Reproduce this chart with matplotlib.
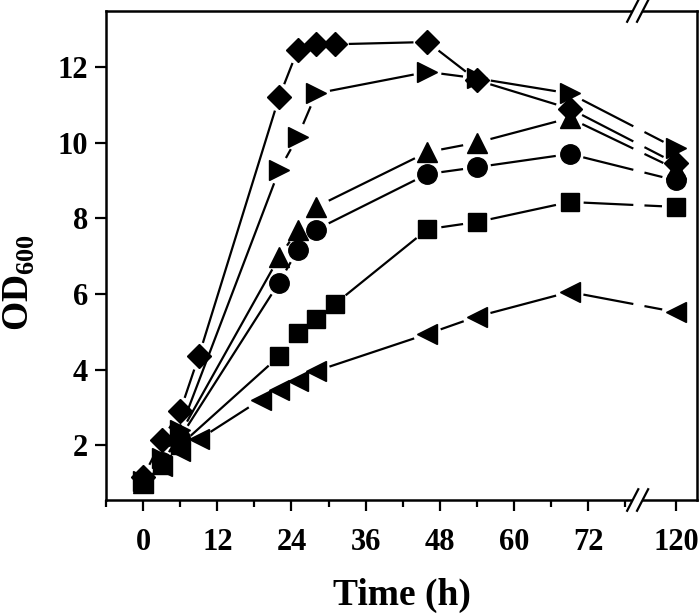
import numpy as np
import matplotlib
matplotlib.use("Agg")
import matplotlib.pyplot as plt

# ---------------- data ----------------
# time in hours; 120 h is drawn after an axis break
t_diamond = [0, 3, 6, 9, 22, 25, 28, 31, 46, 54, 69, 120]
od_diamond = [1.15, 2.13, 2.9, 4.35, 11.2, 12.45, 12.6, 12.6, 12.66, 11.65, 10.9, 9.45]

t_rtri = [0, 3, 6, 22, 25, 28, 46, 54, 69, 120]
od_rtri = [1.05, 1.65, 2.4, 9.27, 10.15, 11.3, 11.87, 11.7, 11.3, 9.85]

t_utri = [0, 3, 6, 22, 25, 28, 46, 54, 69, 120]
od_utri = [1.0, 1.5, 2.3, 6.97, 7.69, 8.3, 9.75, 10.0, 10.65, 9.3]

t_circle = [0, 3, 6, 22, 25, 28, 46, 54, 69, 120]
od_circle = [1.05, 1.55, 2.2, 6.3, 7.16, 7.7, 9.17, 9.35, 9.7, 9.0]

t_square = [0, 3, 6, 22, 25, 28, 31, 46, 54, 69, 120]
od_square = [1.0, 1.5, 2.0, 4.35, 4.96, 5.33, 5.73, 7.71, 7.9, 8.43, 8.3]

t_ltri = [0, 3, 6, 9, 19, 22, 25, 28, 46, 54, 69, 120]
od_ltri = [1.0, 1.45, 1.85, 2.15, 3.2, 3.45, 3.7, 3.96, 4.94, 5.4, 6.05, 5.52]

x_ticks = [0, 12, 24, 36, 48, 60, 72, 120]
y_ticks = [2, 4, 6, 8, 10, 12]

# ---------------- axis break mapping ----------------
BREAK_POS = 80.0      # where the // marks are drawn (axis units)
POS_120 = 86.2        # axis position of 120 h


def tx(t):
    t = np.asarray(t, dtype=float)
    return np.where(t <= 72, t, POS_120 + (t - 120) * 0.3)


plt.rcParams['font.family'] = ['Liberation Serif', 'DejaVu Serif']
plt.rcParams['font.weight'] = 'bold'
plt.rcParams['mathtext.fontset'] = 'custom'
plt.rcParams['mathtext.rm'] = 'Liberation Serif:bold'
plt.rcParams['mathtext.bf'] = 'Liberation Serif:bold'

W, H = 700, 616
fig = plt.figure(figsize=(W / 100, H / 100), dpi=100)
L, R, T, B = 106, 697, 11, 500
ax = fig.add_axes([L / W, 1 - B / H, (R - L) / W, (B - T) / H])
ax.set_xlim(-5.8, 89.6)
ax.set_ylim(0.55, 13.48)

for s in ax.spines.values():
    s.set_linewidth(1.8)

ax.set_xticks(tx(x_ticks))
ax.set_xticklabels([str(v) for v in x_ticks])
ax.set_xticks(list(np.arange(-6, 73, 12) + 0) + [78], minor=True)
ax.set_yticks(y_ticks)
ax.set_yticklabels([str(v) for v in y_ticks])
ax.tick_params(axis='both', which='major', direction='out', length=8, width=1.6,
               labelsize=22)
ax.tick_params(axis='x', which='major', pad=12)
ax.tick_params(axis='y', which='major', pad=5)
ax.tick_params(axis='x', which='minor', direction='out', length=5, width=1.6)
ax.tick_params(axis='y', which='minor', left=False)
for lab in ax.get_xticklabels() + ax.get_yticklabels():
    lab.set_fontweight('bold')

# break marks on top and bottom spines
for yb in (0, 1):
    for dx in (-0.8, 0.8):
        ax.plot([BREAK_POS + dx - 0.9, BREAK_POS + dx + 0.9],
                [yb - 0.022, yb + 0.022],
                transform=ax.get_xaxis_transform(), color='k', lw=1.6,
                clip_on=False, zorder=5)
    ax.plot([BREAK_POS - 0.4, BREAK_POS + 0.4], [yb, yb],
            transform=ax.get_xaxis_transform(), color='white', lw=3,
            clip_on=False, zorder=4)

GAP_PX = 14.0
BREAK_GAP = (79.3, 81.1)


def draw_series(t, y, marker, ms):
    x = tx(t)
    y = np.asarray(y, dtype=float)
    ax.plot(x, y, linestyle='none', marker=marker, ms=ms, color='k',
            markeredgecolor='k', zorder=3)
    pts = ax.transData.transform(np.column_stack([x, y]))
    inv = ax.transData.inverted()
    for i in range(len(x) - 1):
        p0, p1 = pts[i], pts[i + 1]
        d = p1 - p0
        ln = np.hypot(*d)
        if ln <= 2 * GAP_PX + 2:
            continue
        u = d / ln
        a = inv.transform(p0 + u * GAP_PX)
        b = inv.transform(p1 - u * GAP_PX)
        segs = []
        if a[0] < BREAK_GAP[0] and b[0] > BREAK_GAP[1]:
            def at(xv):
                f = (xv - a[0]) / (b[0] - a[0])
                return np.array([xv, a[1] + f * (b[1] - a[1])])
            segs.append((a, at(BREAK_GAP[0])))
            segs.append((at(BREAK_GAP[1]), b))
        else:
            segs.append((a, b))
        for s0, s1 in segs:
            ax.plot([s0[0], s1[0]], [s0[1], s1[1]], color='k', lw=1.6,
                    solid_capstyle='butt', zorder=2)


draw_series(t_diamond, od_diamond, 'D', 12)
draw_series(t_rtri, od_rtri, '>', 15)
draw_series(t_utri, od_utri, '^', 15)
draw_series(t_circle, od_circle, 'o', 14)
draw_series(t_square, od_square, 's', 12.5)
draw_series(t_ltri, od_ltri, '<', 15)

fig.text(402 / W, 1 - 595 / H, 'Time (h)', ha='center', va='center',
         fontsize=27, fontweight='bold')
fig.text(19 / W, 1 - 283 / H, r'OD$_{\mathregular{600}}$', ha='center',
         va='center', rotation=90, fontsize=27, fontweight='bold')

fig.savefig('out.png', dpi=100)
